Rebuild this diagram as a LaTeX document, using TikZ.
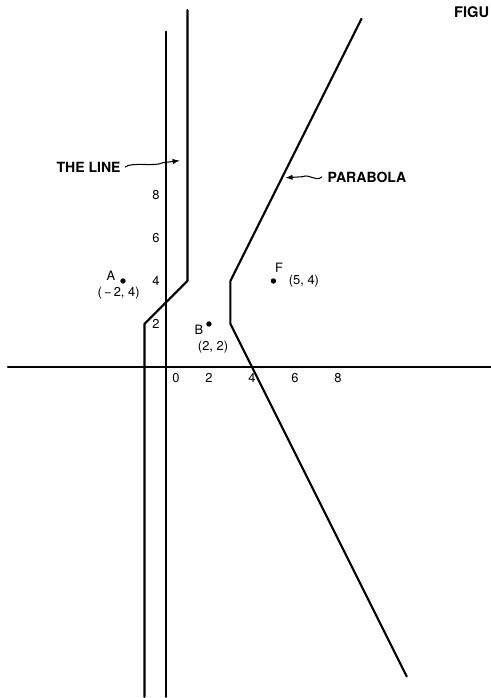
\documentclass[tikz,border=0pt]{standalone}
\usepackage{fontspec}
\setmainfont{TeX Gyre Heros}
\usetikzlibrary{arrows.meta}

\tikzset{
    leader/.style={line width=0.9pt, -{Latex[length=2.2mm, width=1.6mm]}},
    ptlabel/.style={font=\fontsize{11}{13}\selectfont, inner sep=0pt},
    bigtag/.style={font=\fontsize{12}{14}\selectfont\bfseries, inner sep=0pt}
}

\begin{document}
\begin{tikzpicture}[x=0.645cm, y=0.645cm, line width=1.8pt, line cap=round, line join=round, every node/.style={font=\fontsize{11}{13}\selectfont}]
    \useasboundingbox (-7.72,-15.40) rectangle (15.12,17.07);
    \clip (-7.72,-15.40) rectangle (15.12,17.07);

    % axes
    \draw (-7.35,0) -- (15.3,0);
    \draw (0,-15.35) -- (0,15.6);

    \foreach \y in {2,4,6,8}
        \node[anchor=east, inner sep=0pt] at (-0.25,\y) {\y};
    \node[inner sep=0pt] at (0.47,-0.5) {0};
    \foreach \x in {2,4,6,8}
        \node[inner sep=0pt] at (\x,-0.5) {\x};

    % the line (bisector of A and B)
    \draw (-1,-15.35) -- (-1,2) -- (1,4) -- (1,16.6);

    % the parabola
    \draw (9.1,16.2) -- (3,4) -- (3,2) -- (11.2,-14.4);

    % points
    \coordinate (A) at (-2,4);
    \coordinate (B) at (2,2);
    \coordinate (F) at (5,4);
    \foreach \p in {A,B,F}
        \fill (\p) circle (2.3pt);

    \node[ptlabel] (nameA) at (-2.56,4.23) {A};
    \node[ptlabel] (coordA) at (-2.2,3.44) {(\,−\,2, 4)};
    \node[ptlabel] (nameB) at (1.53,1.72) {B};
    \node[ptlabel] (coordB) at (2.19,0.93) {(2, 2)};
    \node[ptlabel] (nameF) at (5.26,4.6) {F};
    \node[ptlabel, anchor=west] (coordF) at (5.67,4.0) {(5, 4)};

    % labels with leaders
    \node[bigtag] (theLine) at (-3.6,9.3) {THE LINE};
    \coordinate (lineTip) at (0.65,9.6);
    \draw[leader] ([xshift=3pt]theLine.east) .. controls +(0.3,0.25) and +(-0.35,-0.2) .. (-0.15,9.5) -- (lineTip);

    \node[bigtag] (parabolaTag) at (9.35,8.84) {PARABOLA};
    \coordinate (parabolaTip) at (5.55,8.8);
    \draw[leader] ([xshift=-4pt]parabolaTag.west) .. controls +(-0.3,-0.25) and +(0.35,0.15) .. (6.35,8.85) -- (parabolaTip);

    \node[font=\fontsize{12.5}{15}\selectfont\bfseries, anchor=east, inner sep=0pt] (figTitle) at (15.08,16.49) {FIGU};
\end{tikzpicture}
\end{document}
